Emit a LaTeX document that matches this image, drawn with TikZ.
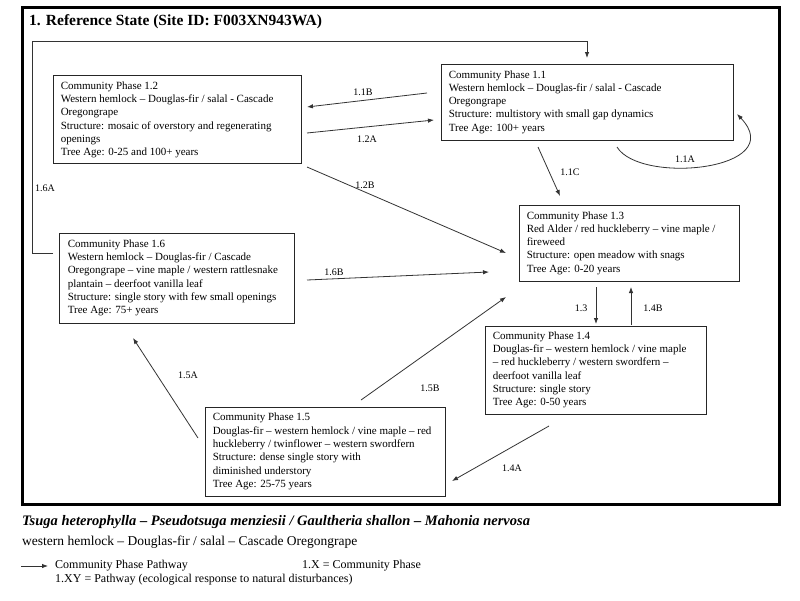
\documentclass[tikz,border=0pt]{standalone}
\usepackage{fontspec}
\setmainfont{Liberation Serif}
\usetikzlibrary{arrows.meta}
\begin{document}
\begin{tikzpicture}[x=1pt,y=-1pt,
  phase/.style={draw=black!85, line width=0.9pt, inner sep=0pt},
  ptext/.style={anchor=west, align=left, inner sep=0pt, font=\fontsize{11}{13.3}\selectfont},
  lbl/.style={font=\fontsize{10}{12}\selectfont, inner sep=0pt},
  legend/.style={anchor=west, inner sep=0pt, font=\fontsize{12}{14}\selectfont},
  conn/.style={draw=black!80, line width=0.8pt, -{Latex[length=6pt,width=4.5pt]}}
]
\useasboundingbox (0,0) rectangle (800,600);
\fill[white] (0,0) rectangle (800,600);
% frame and title
\node[draw, line width=3pt, inner sep=0pt, minimum width=757pt, minimum height=497pt] (frame) at (401,256) {};
\node[anchor=west, inner sep=0pt, font=\fontsize{15.5}{18}\selectfont\bfseries] (title) at (29,22) {1. Reference State (Site ID: F003XN943WA)};

% community phase boxes
\node[phase, minimum width=248pt, minimum height=88pt] (p12) at (177,119) {};
\node[ptext] (p12t) at ([xshift=8pt,yshift=-1pt]p12.west) {Community  Phase 1.2\\Western hemlock  – Douglas-fir  / salal - Cascade\\Oregongrape\\Structure: mosaic of overstory and regenerating\\openings\\Tree Age: 0-25  and 100+  years};

\node[phase, minimum width=292pt, minimum height=76pt] (p11) at (587,102) {};
\node[ptext] (p11t) at ([xshift=8pt]p11.west) {Community  Phase 1.1\\Western hemlock  – Douglas-fir  / salal - Cascade\\Oregongrape\\Structure: multistory with small gap dynamics\\Tree Age: 100+  years};

\node[phase, minimum width=235pt, minimum height=90pt] (p16) at (176.5,278) {};
\node[ptext] (p16t) at ([xshift=9pt]p16.west) {Community  Phase 1.6\\Western hemlock  – Douglas-fir  / Cascade\\Oregongrape – vine maple  / western rattlesnake\\plantain – deerfoot vanilla  leaf\\Structure:  single story with few  small  openings\\Tree Age: 75+  years};

\node[phase, minimum width=220pt, minimum height=76pt] (p13) at (629,243) {};
\node[ptext] (p13t) at ([xshift=8pt]p13.west) {Community  Phase 1.3\\Red  Alder / red huckleberry – vine maple   /\\fireweed\\Structure:  open meadow  with snags\\Tree Age: 0-20  years};

\node[phase, minimum width=221pt, minimum height=88pt] (p14) at (595.5,370) {};
\node[ptext] (p14t) at ([xshift=8pt]p14.west) {Community  Phase 1.4\\Douglas-fir  – western hemlock  / vine maple\\– red huckleberry  / western swordfern –\\deerfoot vanilla  leaf\\Structure:  single story\\Tree Age: 0-50  years};

\node[phase, minimum width=240pt, minimum height=89pt] (p15) at (325,451.5) {};
\node[ptext] (p15t) at ([xshift=8pt]p15.west) {Community  Phase 1.5\\Douglas-fir  – western hemlock  / vine maple  – red\\huckleberry / twinflower  – western swordfern\\Structure:  dense single story with\\diminished understory\\Tree Age: 25-75  years};

% connector end points
\coordinate (a11bS) at (427,93);   \coordinate (a11bE) at (307,107);
\coordinate (a12aS) at (307,133);  \coordinate (a12aE) at (434,120);
\coordinate (a12bS) at (307,167);  \coordinate (a12bE) at (506,253);
\coordinate (a11cS) at (538,147);  \coordinate (a11cE) at (560,196);
\coordinate (a11aS) at (617,147);  \coordinate (a11aE) at (737,114);
\coordinate (a16aS) at (53,253);   \coordinate (a16aE) at (587,58);
\coordinate (a16aC1) at (32,253);  \coordinate (a16aC2) at (32,41); \coordinate (a16aC3) at (587,41);
\coordinate (a16bS) at (307,280);  \coordinate (a16bE) at (489,272);
\coordinate (a13S) at (596,287);   \coordinate (a13E) at (596,324);
\coordinate (a14bS) at (631,325);  \coordinate (a14bE) at (631,287);
\coordinate (a15bS) at (361,400);  \coordinate (a15bE) at (506,297);
\coordinate (a15aS) at (198,438);  \coordinate (a15aE) at (133,338);
\coordinate (a14aS) at (549,426);  \coordinate (a14aE) at (452,481);

% connectors
\draw[conn] (a11bS) -- (a11bE);
\draw[conn] (a12aS) -- (a12aE);
\draw[conn] (a12bS) -- (a12bE);
\draw[conn] (a11cS) -- (a11cE);
\draw[conn] (a11aS) .. controls (640,185) and (790,170) .. (a11aE);
\draw[conn] (a16aS) -- (a16aC1) -- (a16aC2) -- (a16aC3) -- (a16aE);
\draw[conn] (a16bS) -- (a16bE);
\draw[conn] (a13S) -- (a13E);
\draw[conn] (a14bS) -- (a14bE);
\draw[conn] (a15bS) -- (a15bE);
\draw[conn] (a15aS) -- (a15aE);
\draw[conn] (a14aS) -- (a14aE);

% labels
\node[lbl] (l11b) at (363,92) {1.1B};
\node[lbl] (l12a) at (367,139) {1.2A};
\node[lbl] (l12b) at (365,185) {1.2B};
\node[lbl] (l11c) at (570,172) {1.1C};
\node[lbl] (l11a) at (685,159) {1.1A};
\node[lbl] (l16a) at (45,188) {1.6A};
\node[lbl] (l16b) at (334,272) {1.6B};
\node[lbl] (l13) at (581,308) {1.3};
\node[lbl] (l14b) at (653,308) {1.4B};
\node[lbl] (l15b) at (430,388) {1.5B};
\node[lbl] (l15a) at (188,375) {1.5A};
\node[lbl] (l14a) at (512,468) {1.4A};

% legend
\node[anchor=west, inner sep=0pt, font=\fontsize{14.5}{17}\selectfont\bfseries\itshape] (sci) at (22,522) {Tsuga heterophylla – Pseudotsuga menziesii / Gaultheria shallon – Mahonia nervosa};
\node[anchor=west, inner sep=0pt, font=\fontsize{13.5}{16}\selectfont] (common) at (22,542) {western hemlock – Douglas-fir / salal – Cascade Oregongrape};
\coordinate (lgA) at (21,566); \coordinate (lgB) at (48,566);
\draw[conn] (lgA) -- (lgB);
\node[legend] (lg1) at (55,566) {Community  Phase Pathway};
\node[legend] (lg2) at (55,580) {1.XY = Pathway (ecological response to natural disturbances)};
\node[legend] (lg3) at (302,566) {1.X = Community  Phase};
\end{tikzpicture}
\end{document}
